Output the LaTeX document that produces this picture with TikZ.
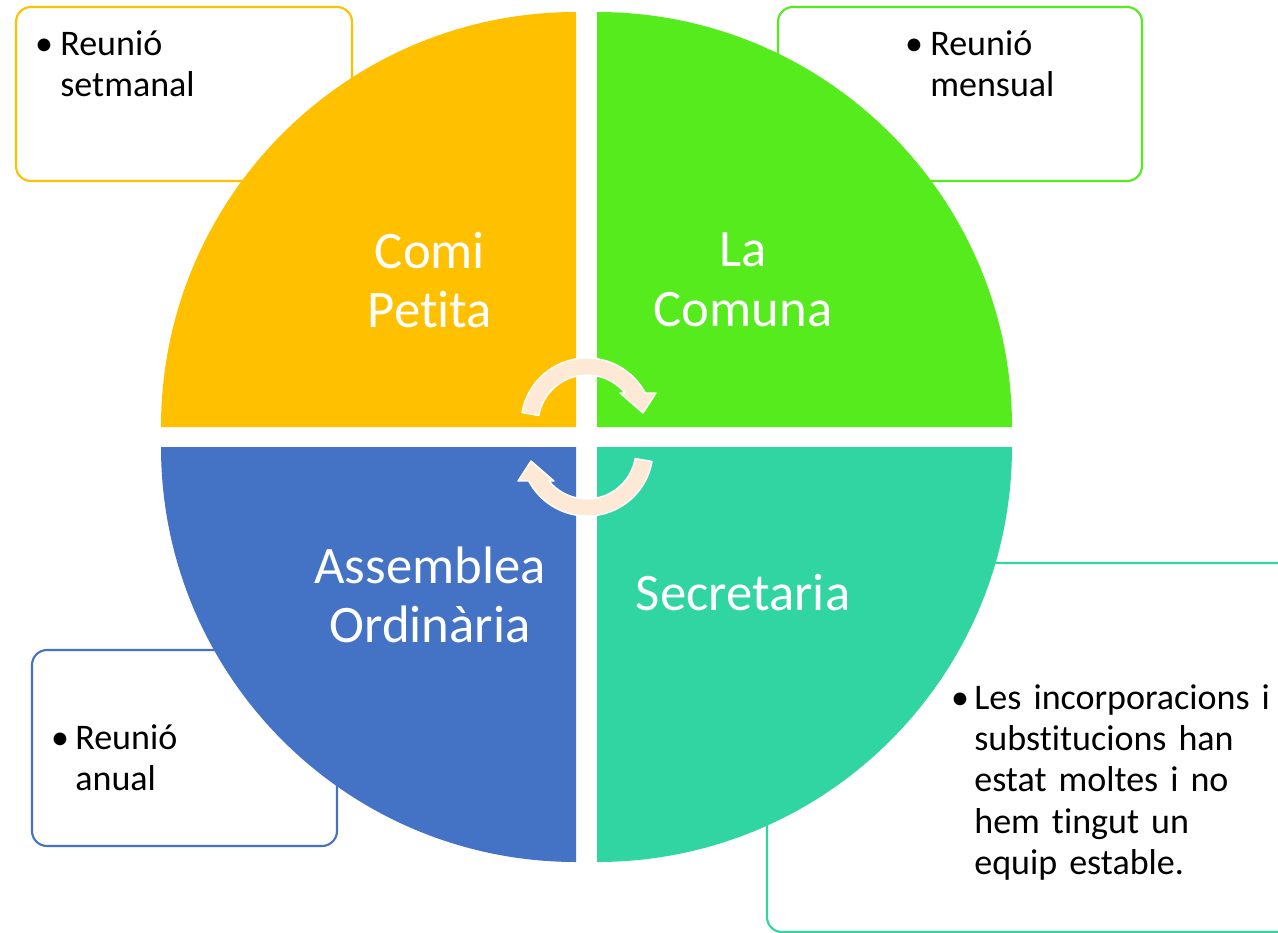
\documentclass[tikz,border=0pt]{standalone}
\usepackage{fontspec}
\setmainfont[RawFeature={-liga}]{Carlito}
\definecolor{comiOrange}{HTML}{FFC000}
\definecolor{comunaGreen}{HTML}{55EB1C}
\definecolor{secreTeal}{HTML}{30D5A2}
\definecolor{assemBlue}{HTML}{4472C4}
\definecolor{cyclePeach}{HTML}{FDE9D5}

\begin{document}
\begin{tikzpicture}[
  x=0.02cm, y=-0.02cm,
  note/.style={draw, rounded corners=0.3cm, line width=1.2pt, fill=white},
  label/.style={text=white, align=center, inner sep=0pt,
    font=\fontsize{30}{34}\selectfont},
  bullet/.style={anchor=base, inner sep=0pt, font=\fontsize{20.5}{23.6}\selectfont},
  item/.style={anchor=base west, inner sep=0pt, align=left,
    text width=7cm, font=\fontsize{20.5}{23.6}\selectfont},
  cycarrow/.style={fill=cyclePeach, draw=white, line width=0.8pt, line join=round}
]
\useasboundingbox (0,0) rectangle (1278,933);
\clip (0,0) rectangle (1278,933);

% --- note boxes (behind the circle) ---
\draw[note, draw=comiOrange]  (16,7)    rectangle (352,181);
\draw[note, draw=comunaGreen] (778,7)   rectangle (1142,181);
\draw[note, draw=assemBlue]   (32,650)  rectangle (337,846);
\draw[note, draw=secreTeal]   (767,563) rectangle (1300,932);

% --- quadrants ---
\fill[comiOrange]  (576,427) -- (161,427) arc[start angle=180, end angle=270, radius=415] -- cycle;
\fill[comunaGreen] (597,427) -- (597,12)  arc[start angle=270, end angle=360, radius=415] -- cycle;
\fill[secreTeal]   (597,447) -- (1012,447) arc[start angle=0, end angle=90, radius=415] -- cycle;
\fill[assemBlue]   (576,447) -- (576,862) arc[start angle=90, end angle=180, radius=415] -- cycle;

% --- quadrant labels ---
\node[label] (comi)   at (430,280) {Comi\\Petita};
\node[label] (comuna) at (743,280) {La\\Comuna};
\node[label] (assem)  at (430,595) {Assemblea\\Ordinària};
\node[label] (secre)  at (743,593) {Secretaria};

% --- cycle arrows ---
\begin{scope}[shift={(587,424)}]
  \draw[cycarrow] (190:66) arc[start angle=190, end angle=332, radius=66]
    -- (69,-31) -- (56,-11) -- (33,-31) -- (38,-31)
    arc[start angle=320.7, end angle=190, radius=49] -- cycle;
\end{scope}
\begin{scope}[shift={(587,450)}, rotate=180]
  \draw[cycarrow] (190:66) arc[start angle=190, end angle=332, radius=66]
    -- (69,-31) -- (56,-11) -- (33,-31) -- (38,-31)
    arc[start angle=320.7, end angle=190, radius=49] -- cycle;
\end{scope}

% --- note texts ---
\node[bullet] (b1) at (44,55)  {\textbullet};
\node[item]   (t1) at (60,55)  {Reunió\\setmanal};
\node[bullet] (b2) at (914,55) {\textbullet};
\node[item]   (t2) at (930,55) {Reunió\\mensual};
\node[bullet] (b3) at (60,749) {\textbullet};
\node[item]   (t3) at (75,749) {Reunió\\anual};
\node[bullet] (b4) at (960,709) {\textbullet};
\node[item]   (t4) at (974,709) {Les incorporacions i\\substitucions han\\estat moltes i no\\hem tingut un\\equip estable.};

\end{tikzpicture}
\end{document}
